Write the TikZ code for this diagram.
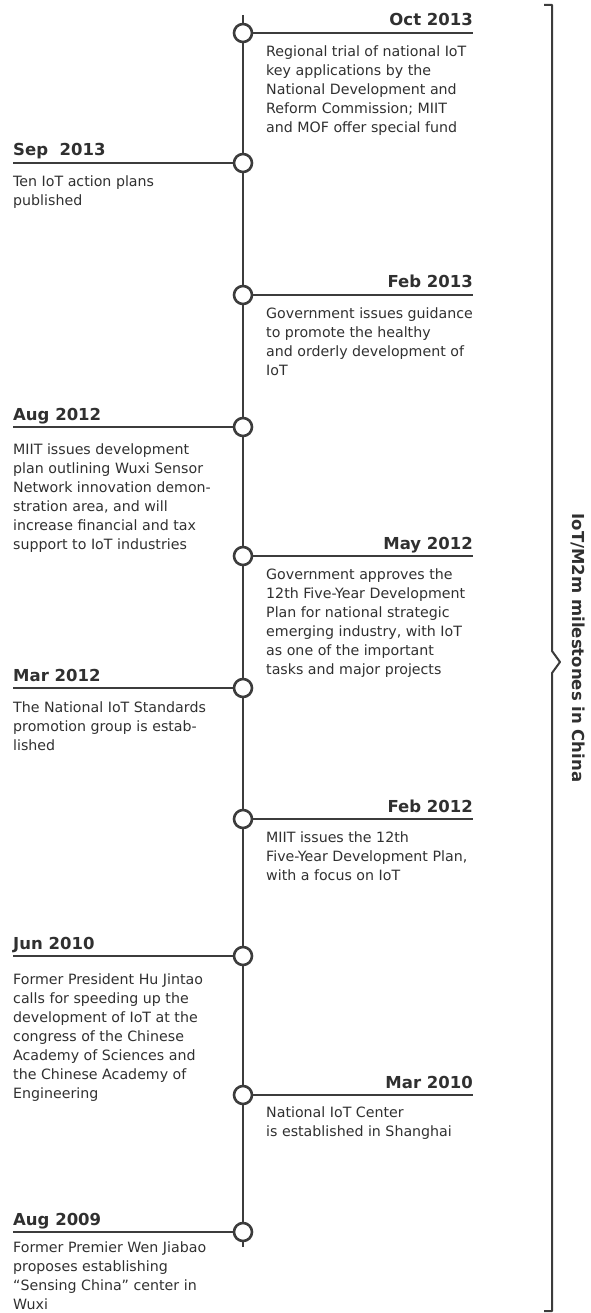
\documentclass[tikz,border=0pt]{standalone}
\usepackage{fontspec}
\setmainfont{DejaVu Sans}
\definecolor{ink}{HTML}{3C3C3C}
\definecolor{txt}{HTML}{303030}
\begin{document}
\begin{tikzpicture}[x=1pt, y=-1pt, line join=round, line cap=butt,
    dot/.style={circle, draw=ink, fill=white, line width=2.6pt, minimum size=18pt, inner sep=0pt},
    datelabel/.style={font=\fontsize{16.5}{19}\selectfont\bfseries, text=txt, inner sep=0pt},
    body/.style={font=\fontsize{14.2}{19}\selectfont, text=txt, align=left, inner sep=0pt, anchor=north west},
    rule/.style={draw=ink, line width=2pt}]
	\useasboundingbox (0,0) rectangle (590,1313);
	\def\axisx{243}\def\lx{13}\def\rx{473}\def\tx{266}
	% time axis
	\coordinate (top) at (\axisx,15); \coordinate (bot) at (\axisx,1247);
	\draw[rule] (top) -- (bot);
	% events on the right
	\node[dot] (oct13) at (\axisx,33) {}; \coordinate (oct13e) at (\rx,33);
	\draw[rule] (oct13) -- (oct13e);
	\node[datelabel, anchor=base east] (oct13d) at (\rx,26) {Oct 2013};
	\node[body] (oct13t) at (\tx,46) {Regional trial of national IoT\\key applications by the\\National Development and\\Reform Commission; MIIT\\and MOF offer special fund};
	\node[dot] (feb13) at (\axisx,295) {}; \coordinate (feb13e) at (\rx,295);
	\draw[rule] (feb13) -- (feb13e);
	\node[datelabel, anchor=base east] (feb13d) at (\rx,288) {Feb 2013};
	\node[body] (feb13t) at (\tx,308) {Government issues guidance\\to promote the healthy\\and orderly development of\\IoT};
	\node[dot] (may12) at (\axisx,556) {}; \coordinate (may12e) at (\rx,556);
	\draw[rule] (may12) -- (may12e);
	\node[datelabel, anchor=base east] (may12d) at (\rx,549) {May 2012};
	\node[body] (may12t) at (\tx,569) {Government approves the\\12th Five-Year Development\\Plan for national strategic\\emerging industry, with IoT\\as one of the important\\tasks and major projects};
	\node[dot] (feb12) at (\axisx,819) {}; \coordinate (feb12e) at (\rx,819);
	\draw[rule] (feb12) -- (feb12e);
	\node[datelabel, anchor=base east] (feb12d) at (\rx,812) {Feb 2012};
	\node[body] (feb12t) at (\tx,832) {MIIT issues the 12th\\Five-Year Development Plan,\\with a focus on IoT};
	\node[dot] (mar10) at (\axisx,1095) {}; \coordinate (mar10e) at (\rx,1095);
	\draw[rule] (mar10) -- (mar10e);
	\node[datelabel, anchor=base east] (mar10d) at (\rx,1088) {Mar 2010};
	\node[body] (mar10t) at (\tx,1106) {National IoT Center\\is established in Shanghai};
	% events on the left
	\node[dot] (sep13) at (\axisx,163) {}; \coordinate (sep13w) at (\lx,163);
	\draw[rule] (sep13w) -- (sep13);
	\node[datelabel, anchor=base west] (sep13d) at (\lx,156) {Sep~ 2013};
	\node[body] (sep13t) at (\lx,176) {Ten IoT action plans\\published};
	\node[dot] (aug12) at (\axisx,427) {}; \coordinate (aug12w) at (\lx,427);
	\draw[rule] (aug12w) -- (aug12);
	\node[datelabel, anchor=base west] (aug12d) at (\lx,420) {Aug 2012};
	\node[body] (aug12t) at (\lx,444) {MIIT issues development\\plan outlining Wuxi Sensor\\Network innovation demon-\\stration area, and will\\increase financial and tax\\support to IoT industries};
	\node[dot] (mar12) at (\axisx,688) {}; \coordinate (mar12w) at (\lx,688);
	\draw[rule] (mar12w) -- (mar12);
	\node[datelabel, anchor=base west] (mar12d) at (\lx,681) {Mar 2012};
	\node[body] (mar12t) at (\lx,702) {The National IoT Standards\\promotion group is estab-\\lished};
	\node[dot] (jun10) at (\axisx,956) {}; \coordinate (jun10w) at (\lx,956);
	\draw[rule] (jun10w) -- (jun10);
	\node[datelabel, anchor=base west] (jun10d) at (\lx,949) {Jun 2010};
	\node[body] (jun10t) at (\lx,973) {Former President Hu Jintao\\calls for speeding up the\\development of IoT at the\\congress of the Chinese\\Academy of Sciences and\\the Chinese Academy of\\Engineering};
	\node[dot] (aug09) at (\axisx,1232) {}; \coordinate (aug09w) at (\lx,1232);
	\draw[rule] (aug09w) -- (aug09);
	\node[datelabel, anchor=base west] (aug09d) at (\lx,1225) {Aug 2009};
	\node[body] (aug09t) at (\lx,1241) {Former Premier Wen Jiabao\\proposes establishing\\“Sensing China” center in\\Wuxi};
	% brace and title
	\coordinate (tip) at (560,662);
	\draw[rule] (544,5) -- (552,5) -- (552,651) -- (tip) -- (552,673) -- (552,1311) -- (544,1311);
	\node[font=\fontsize{16.5}{20}\selectfont\bfseries, text=txt, rotate=-90] (title) at (578,648) {IoT/M2m milestones in China};
\end{tikzpicture}
\end{document}
